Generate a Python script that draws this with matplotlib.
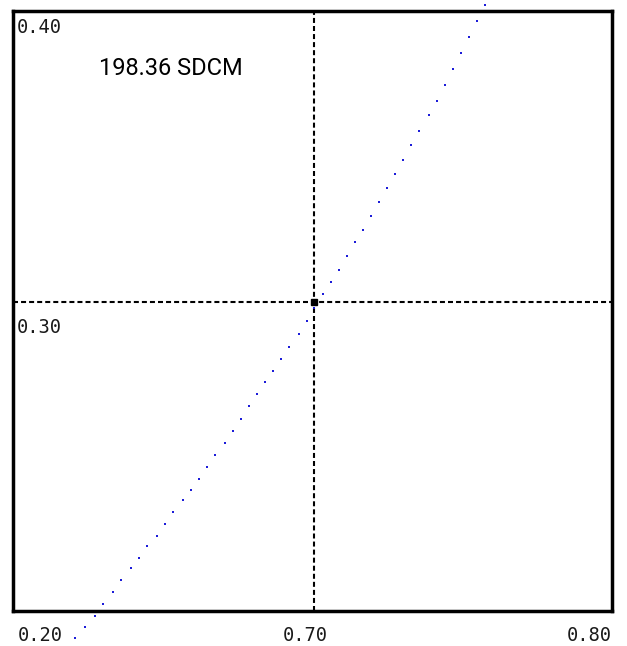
import matplotlib
matplotlib.use('Agg')
import matplotlib.pyplot as plt
import matplotlib.transforms as mtransforms

# Chromaticity window and target point
x_range = [0.60, 0.80]
y_range = [0.20, 0.40]
target_x = 0.7005
target_y = 0.3030
sdcm_text = '198.36 SDCM'

# Dotted locus points (x, y)
locus_x = [0.7575, 0.7548, 0.7521, 0.7494, 0.7469, 0.7443, 0.7415, 0.7390,
           0.7356, 0.7329, 0.7302, 0.7275, 0.7248, 0.7221, 0.7195, 0.7168,
           0.7141, 0.7115, 0.7088, 0.7061, 0.7034, 0.7005, 0.6981, 0.6954,
           0.6921, 0.6894, 0.6867, 0.6840, 0.6814, 0.6787, 0.6760, 0.6734,
           0.6707, 0.6673, 0.6647, 0.6620, 0.6593, 0.6566, 0.6533, 0.6506,
           0.6480, 0.6446, 0.6419, 0.6393, 0.6359, 0.6333, 0.6299, 0.6272,
           0.6239, 0.6206]
locus_y = [0.4023, 0.3969, 0.3916, 0.3863, 0.3809, 0.3756, 0.3701, 0.3655,
           0.3601, 0.3555, 0.3505, 0.3457, 0.3410, 0.3364, 0.3317, 0.3270,
           0.3230, 0.3183, 0.3137, 0.3097, 0.3057, 0.3010, 0.2969, 0.2923,
           0.2882, 0.2842, 0.2802, 0.2763, 0.2723, 0.2683, 0.2642, 0.2602,
           0.2562, 0.2520, 0.2480, 0.2441, 0.2403, 0.2369, 0.2330, 0.2290,
           0.2250, 0.2217, 0.2178, 0.2143, 0.2103, 0.2063, 0.2022, 0.1982,
           0.1948, 0.1909]

# Tick labels
y_ticks = [0.40, 0.30]
y_tick_labels = ['0.40', '0.30']
x_ticks = [0.70, 0.80]
x_tick_labels = ['0.70', '0.80']
corner_label = '0.20'

plt.rcParams['lines.scale_dashes'] = False

fig = plt.figure(figsize=(6.27, 6.46), dpi=100)
ax = fig.add_axes([0.0215, 0.0542, 0.9546, 0.928])
ax.set_xlim(x_range)
ax.set_ylim(y_range)
ax.set_xticks([])
ax.set_yticks([])
for sp in ax.spines.values():
    sp.set_linewidth(2.5)
    sp.set_color('black')

# crosshair
ax.axvline(target_x, color='black', lw=1.5, linestyle=(0, (3.6, 2.2)))
ax.axhline(target_y, color='black', lw=1.5, linestyle=(0, (3.6, 2.2)))

# dotted locus (goes past the frame)
ax.plot(locus_x, locus_y, linestyle='none', marker='s', markersize=1.7,
        color='#1c1cd8', markeredgewidth=0, clip_on=False, zorder=3)

# target point
ax.plot([target_x], [target_y], marker='s', markersize=5, color='black',
        zorder=4)

ax.text(0.1429, 0.894, sdcm_text, transform=ax.transAxes, va='baseline',
        ha='left', fontsize=17, family='Roboto')

mono = dict(fontsize=13.5, family='DejaVu Sans Mono', color='#1a1a1a')

# y labels sit inside the frame, just under their value
ytrans = mtransforms.blended_transform_factory(ax.transAxes, ax.transData)
yoff = mtransforms.ScaledTranslation(0, -21.5 / 100, fig.dpi_scale_trans)
for v, lab in zip(y_ticks, y_tick_labels):
    ax.text(0.005, v, lab, transform=ytrans + yoff, va='baseline', ha='left', **mono)

# x labels under the frame
xtrans = mtransforms.blended_transform_factory(ax.transData, ax.transAxes)
xoff = mtransforms.ScaledTranslation(0, -30 / 100, fig.dpi_scale_trans)
ax.text(x_ticks[0] - 0.0025, 0, x_tick_labels[0], transform=xtrans + xoff,
        va='baseline', ha='center', **mono)
ax.text(x_ticks[1], 0, x_tick_labels[1], transform=xtrans + xoff,
        va='baseline', ha='right', **mono)
ax.text(x_range[0] + 0.0015, 0, corner_label, transform=xtrans + xoff,
        va='baseline', ha='left', **mono)

fig.savefig('out.png', dpi=100)
